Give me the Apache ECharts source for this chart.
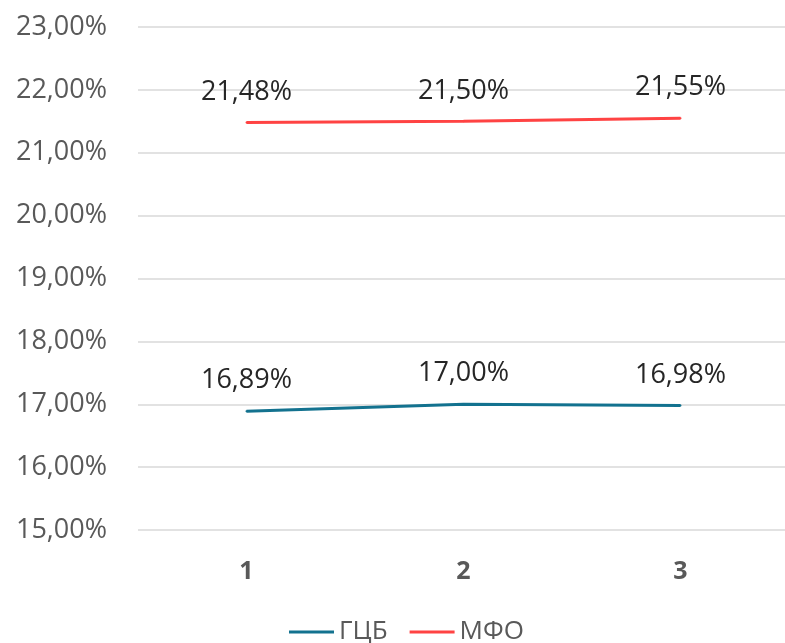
<!DOCTYPE html>
<html>
<head>
<meta charset="utf-8">
<script src="https://cdn.jsdelivr.net/npm/echarts@6/dist/echarts.min.js"></script>
<style>
  html, body { margin: 0; padding: 0; background: #fff; }
  #chart { width: 785px; height: 643px; }
</style>
</head>
<body>
<div id="chart"></div>
<script>
// данные графика
var categories = ['1', '2', '3']
var gcbValues = [16.89, 17.00, 16.98]
var mfoValues = [21.48, 21.50, 21.55]
var yMin = 15
var yMax = 23

function pct(v) {
  return v.toFixed(2).replace('.', ',') + '%'
}

var myChart = echarts.init(document.getElementById('chart'))
var fontName = '"Open Sans", sans-serif'

// подпись значения над точкой
var valueLabel = {
  show: true,
  position: 'top',
  distance: 16,
  color: '#262626',
  fontSize: 27,
  fontFamily: fontName,
  formatter: function (p) { return pct(p.value) }
}

var option = {
  animation: false,
  textStyle: { fontFamily: fontName },
  grid: {
    left: 138,
    width: 651,
    top: 27,
    height: 503,
    outerBoundsMode: 'none'
  },
  legend: {
    top: 614,
    left: 284,
    itemWidth: 45,
    itemHeight: 3,
    itemGap: 22,
    icon: 'rect',
    textStyle: { color: '#595959', fontSize: 26, fontFamily: fontName },
    data: ['ГЦБ', 'МФО']
  },
  xAxis: {
    type: 'category',
    data: categories,
    boundaryGap: true,
    axisLine: { show: false },
    axisTick: { show: false },
    axisLabel: {
      color: '#595959',
      fontSize: 25,
      fontWeight: 'bold',
      margin: 29,
      fontFamily: fontName
    }
  },
  yAxis: {
    type: 'value',
    min: yMin,
    max: yMax,
    interval: 1,
    axisLine: { show: false },
    axisTick: { show: false },
    splitLine: { lineStyle: { color: '#d9d9d9', width: 1.5 } },
    axisLabel: {
      color: '#595959',
      fontSize: 27,
      margin: 31,
      fontFamily: fontName,
      formatter: function (v) { return pct(v) }
    }
  },
  series: [
    {
      name: 'ГЦБ',
      type: 'line',
      data: gcbValues,
      showSymbol: true,
      symbol: 'circle',
      symbolSize: 2,
      itemStyle: { color: '#13728f' },
      lineStyle: { width: 3, color: '#13728f' },
      label: valueLabel
    },
    {
      name: 'МФО',
      type: 'line',
      data: mfoValues,
      showSymbol: true,
      symbol: 'circle',
      symbolSize: 2,
      itemStyle: { color: '#ff4343' },
      lineStyle: { width: 3, color: '#ff4343' },
      label: valueLabel
    }
  ]
}
option && myChart.setOption(option)
</script>
</body>
</html>
